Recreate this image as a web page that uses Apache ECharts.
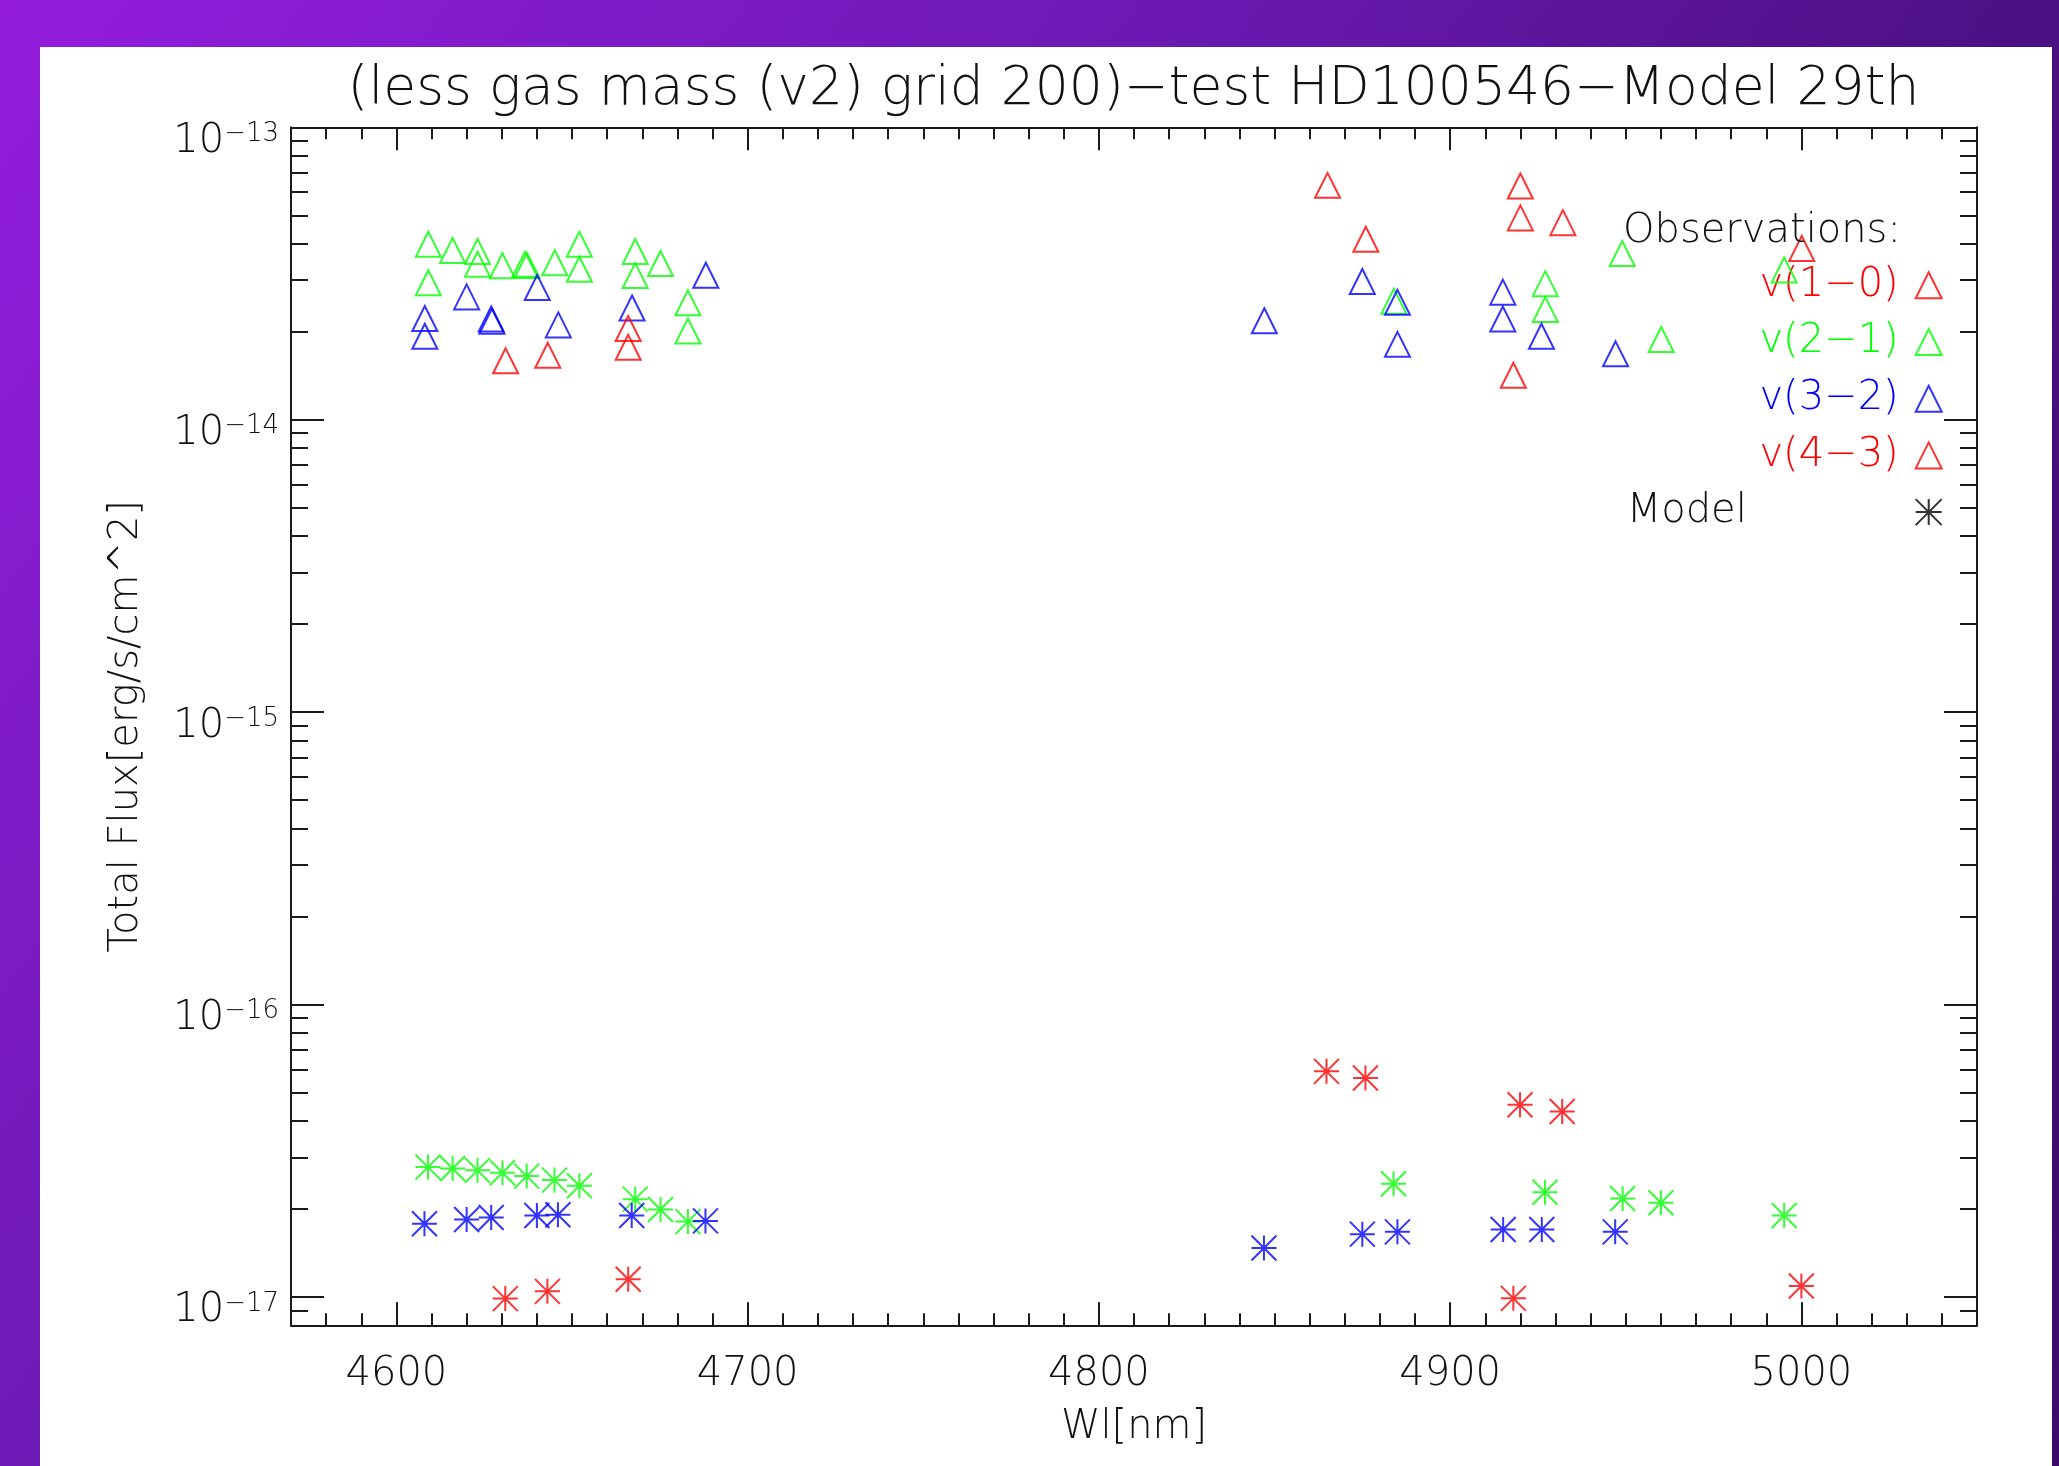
<!DOCTYPE html>
<html>
<head>
<meta charset="utf-8">
<script src="https://cdn.jsdelivr.net/npm/echarts@6/dist/echarts.min.js"></script>
<style>
html,body{margin:0;padding:0;width:2059px;height:1466px;overflow:hidden;}
body{background:linear-gradient(127deg,#941ddd 0%,#6e1ab6 35%,#4b1082 65%,#3c0b6a 100%);}
#panel{position:absolute;left:40px;top:47px;width:2012px;height:1419px;background:#ffffff;}
#chart{position:absolute;left:0;top:0;width:2059px;height:1466px;}
</style>
</head>
<body>
<div id="panel"></div>
<div id="chart"></div>
<script>
// ---------------- data ----------------
const titleText = '(less gas mass (v2) grid 200)\u2212test HD100546\u2212Model 29th';
const xName = 'Wl[nm]';
const yName = 'Total Flux[erg/s/cm^2]';
const legendNames = ['v(1\u22120)', 'v(2\u22121)', 'v(3\u22122)', 'v(4\u22123)', 'Model'];

const X_MIN = 4570, X_MAX = 5050;
const Y_MIN = 8e-18, Y_MAX = 1e-13;
const xMajorTicks = [4600, 4700, 4800, 4900, 5000];
const yMajorTicks = [1e-17, 1e-16, 1e-15, 1e-14, 1e-13];

// Observations (triangles)
const obsV10Wl   = [4865.1, 4876.0, 4920.0, 4920.0, 4932.1];
const obsV10Flux = [6.33e-14, 4.14e-14, 6.30e-14, 4.90e-14, 4.72e-14];

const obsV21Wl   = [4609.1, 4609.1, 4616.0, 4623.1, 4623.1, 4630.2, 4636.6, 4637.2, 4645.1, 4652.1, 4652.1,
                    4668.0, 4668.0, 4675.2, 4683.0, 4683.0, 4884.0, 4927.1, 4927.1, 4949.0, 4960.1, 4995.1];
const obsV21Flux = [3.98e-14, 2.94e-14, 3.79e-14, 3.76e-14, 3.40e-14, 3.36e-14, 3.40e-14, 3.37e-14, 3.44e-14, 3.98e-14, 3.27e-14,
                    3.76e-14, 3.11e-14, 3.42e-14, 2.51e-14, 2.01e-14, 2.54e-14, 2.92e-14, 2.38e-14, 3.70e-14, 1.88e-14, 3.25e-14];

const obsV32Wl   = [4608.1, 4608.1, 4620.0, 4627.0, 4627.2, 4640.1, 4646.1, 4667.1, 4688.1,
                    4847.1, 4875.0, 4885.0, 4885.0, 4915.0, 4915.0, 4926.0, 4947.1];
const obsV32Flux = [2.22e-14, 1.93e-14, 2.63e-14, 2.21e-14, 2.17e-14, 2.83e-14, 2.11e-14, 2.41e-14, 3.12e-14,
                    2.18e-14, 2.97e-14, 2.52e-14, 1.81e-14, 2.73e-14, 2.21e-14, 1.93e-14, 1.68e-14];

const obsV43Wl   = [4631.1, 4643.1, 4666.0, 4666.0, 4918.0, 5000.1];
const obsV43Flux = [1.59e-14, 1.66e-14, 2.05e-14, 1.77e-14, 1.42e-14, 3.85e-14];

// Model (asterisks)
const modV10Wl   = [4864.8, 4875.9, 4919.9, 4931.9];
const modV10Flux = [5.91e-17, 5.61e-17, 4.54e-17, 4.31e-17];

const modV21Wl   = [4609.0, 4616.0, 4623.1, 4630.2, 4637.1, 4645.0, 4652.1, 4668.0, 4675.2, 4683.0,
                    4883.9, 4927.0, 4949.1, 4960.0, 4995.1];
const modV21Flux = [2.78e-17, 2.75e-17, 2.71e-17, 2.66e-17, 2.59e-17, 2.51e-17, 2.40e-17, 2.16e-17, 1.99e-17, 1.81e-17,
                    2.44e-17, 2.28e-17, 2.17e-17, 2.10e-17, 1.90e-17];

const modV32Wl   = [4608.0, 4620.0, 4627.0, 4640.0, 4646.0, 4667.0, 4688.0,
                    4847.0, 4875.0, 4885.0, 4915.1, 4926.1, 4947.0];
const modV32Flux = [1.78e-17, 1.84e-17, 1.87e-17, 1.90e-17, 1.91e-17, 1.90e-17, 1.82e-17,
                    1.47e-17, 1.64e-17, 1.67e-17, 1.70e-17, 1.70e-17, 1.67e-17];

const modV43Wl   = [4631.0, 4643.0, 4666.0, 4918.0, 5000.0];
const modV43Flux = [9.87e-18, 1.045e-17, 1.149e-17, 9.89e-18, 1.09e-17];

// ---------------- derived tick lists ----------------
const xMinorTicks = [];
for (let v = X_MIN + 10; v < X_MAX; v += 10) { if (v % 100 !== 0) xMinorTicks.push(v); }
const yMinorTicks = [];
for (let e = -18; e <= -14; e++) {
  for (let k = 2; k <= 9; k++) {
    const v = k * Math.pow(10, e);
    if (v > Y_MIN * 1.01 && v < Y_MAX * 0.99) yMinorTicks.push(v);
  }
}

// ---------------- styles ----------------
const FONT = "'DejaVu Sans', 'Noto Sans', sans-serif";
const FW = 200;
const TXT = '#111111';
const RED = '#ff0000', GREEN = '#00ff00', BLUE = '#0000ff';
const AXC = '#1a1a1a';
const ASTERISK = 'path://M0,12L24,12M12,0L12,24M0,0L24,24M0,24L24,0';

function pairs(xs, ys) { return xs.map((x, i) => [x, ys[i]]); }

function markSeries(name, xs, ys, color, symbol) {
  return {
    type: 'scatter', name: name, data: pairs(xs, ys),
    symbol: symbol, symbolSize: 25,
    xAxisIndex: 0, yAxisIndex: 0,
    itemStyle: { color: 'rgba(0,0,0,0)', borderColor: color, borderWidth: 2 },
    emphasis: { disabled: true },
    z: 5
  };
}

function xAxisDef(position, ticks, len, withLabels, withLine) {
  const ax = {
    type: 'value', position: position, min: X_MIN, max: X_MAX,
    axisLine: { show: withLine, onZero: false, lineStyle: { color: AXC, width: 2 } },
    axisTick: { show: true, inside: true, length: len, customValues: ticks, lineStyle: { color: AXC, width: 2 } },
    axisLabel: { show: withLabels },
    splitLine: { show: false }
  };
  if (withLabels) {
    ax.axisLabel = {
      show: true, customValues: ticks, margin: 29,
      formatter: function (v) { return String(v); },
      color: TXT, fontFamily: FONT, fontWeight: FW, fontSize: 40
    };
    ax.name = xName;
    ax.nameLocation = 'middle';
    ax.nameGap = 82;
    ax.nameTextStyle = { color: TXT, fontFamily: FONT, fontWeight: FW, fontSize: 40 };
  }
  return ax;
}

function yAxisDef(position, ticks, len, withLabels, withLine) {
  const ax = {
    type: 'log', logBase: 10, position: position, min: Y_MIN, max: Y_MAX,
    axisLine: { show: withLine, onZero: false, lineStyle: { color: AXC, width: 2 } },
    axisTick: { show: true, inside: true, length: len, customValues: ticks, lineStyle: { color: AXC, width: 2 } },
    axisLabel: { show: withLabels },
    splitLine: { show: false }
  };
  if (withLabels) {
    ax.axisLabel = {
      show: true, customValues: ticks, margin: 12,
      padding: [28, 0, 0, 0],
      formatter: function (v) {
        const e = Math.round(Math.log10(v));
        return '{b|10}{s|\u2212' + Math.abs(e) + '}';
      },
      rich: {
        b: { fontFamily: FONT, fontWeight: FW, fontSize: 40, color: TXT, lineHeight: 40, padding: [18, 0, 0, 0], verticalAlign: 'bottom' },
        s: { fontFamily: FONT, fontWeight: FW, fontSize: 26, color: TXT, lineHeight: 26, verticalAlign: 'top' }
      }
    };
    ax.name = yName;
    ax.nameLocation = 'middle';
    ax.nameGap = 144;
    ax.nameRotate = 90;
    ax.nameTextStyle = { color: TXT, fontFamily: FONT, fontWeight: FW, fontSize: 40 };
  }
  return ax;
}

const chart = echarts.init(document.getElementById('chart'), null, { renderer: 'canvas' });

const option = {
  backgroundColor: 'transparent',
  animation: false,
  title: [
    {
      text: titleText, left: 1128.5, top: 58, textAlign: 'center',
      textStyle: { color: TXT, fontFamily: FONT, fontWeight: FW, fontSize: 53.5 }
    },
    {
      text: 'Observations:', left: 1618, top: 207,
      textStyle: { color: TXT, fontFamily: FONT, fontWeight: FW, fontSize: 40 }
    }
  ],
  grid: { left: 291, right: 82, top: 127.3, bottom: 140.7, containLabel: false },
  legend: {
    orient: 'vertical', right: 111.3, top: 260.3,
    align: 'right', selectedMode: false,
    itemWidth: 26, itemHeight: 26, itemGap: 16.7,
    data: [
      { name: legendNames[0], textStyle: { color: RED } },
      { name: legendNames[1], textStyle: { color: GREEN } },
      { name: legendNames[2], textStyle: { color: BLUE } },
      { name: legendNames[3], textStyle: { color: RED } },
      { name: legendNames[4], textStyle: { color: TXT } }
    ],
    formatter: function (name) { return name === 'Model' ? '{m|' + name + '}' : name; },
    textStyle: {
      fontFamily: FONT, fontWeight: FW, fontSize: 40, lineHeight: 26, padding: [0, 12, 0, 0],
      rich: { m: { width: 272, align: 'left', fontFamily: FONT, fontWeight: FW, fontSize: 40, lineHeight: 26, color: TXT } }
    }
  },
  xAxis: [
    xAxisDef('bottom', xMajorTicks, 23, true, true),
    xAxisDef('bottom', xMinorTicks, 12, false, false),
    xAxisDef('top', xMajorTicks, 23, false, true),
    xAxisDef('top', xMinorTicks, 12, false, false)
  ],
  yAxis: [
    yAxisDef('left', yMajorTicks, 33, true, true),
    yAxisDef('left', yMinorTicks, 17, false, false),
    yAxisDef('right', yMajorTicks, 33, false, true),
    yAxisDef('right', yMinorTicks, 17, false, false)
  ],
  series: [
    markSeries(legendNames[0], obsV10Wl, obsV10Flux, RED, 'triangle'),
    markSeries(legendNames[1], obsV21Wl, obsV21Flux, GREEN, 'triangle'),
    markSeries(legendNames[2], obsV32Wl, obsV32Flux, BLUE, 'triangle'),
    markSeries(legendNames[3], obsV43Wl, obsV43Flux, RED, 'triangle'),
    markSeries('Model ' + legendNames[0], modV10Wl, modV10Flux, RED, ASTERISK),
    markSeries('Model ' + legendNames[1], modV21Wl, modV21Flux, GREEN, ASTERISK),
    markSeries('Model ' + legendNames[2], modV32Wl, modV32Flux, BLUE, ASTERISK),
    markSeries('Model ' + legendNames[3], modV43Wl, modV43Flux, RED, ASTERISK),
    markSeries('Model', [], [], '#000000', ASTERISK)
  ]
};

chart.setOption(option);
</script>
</body>
</html>
